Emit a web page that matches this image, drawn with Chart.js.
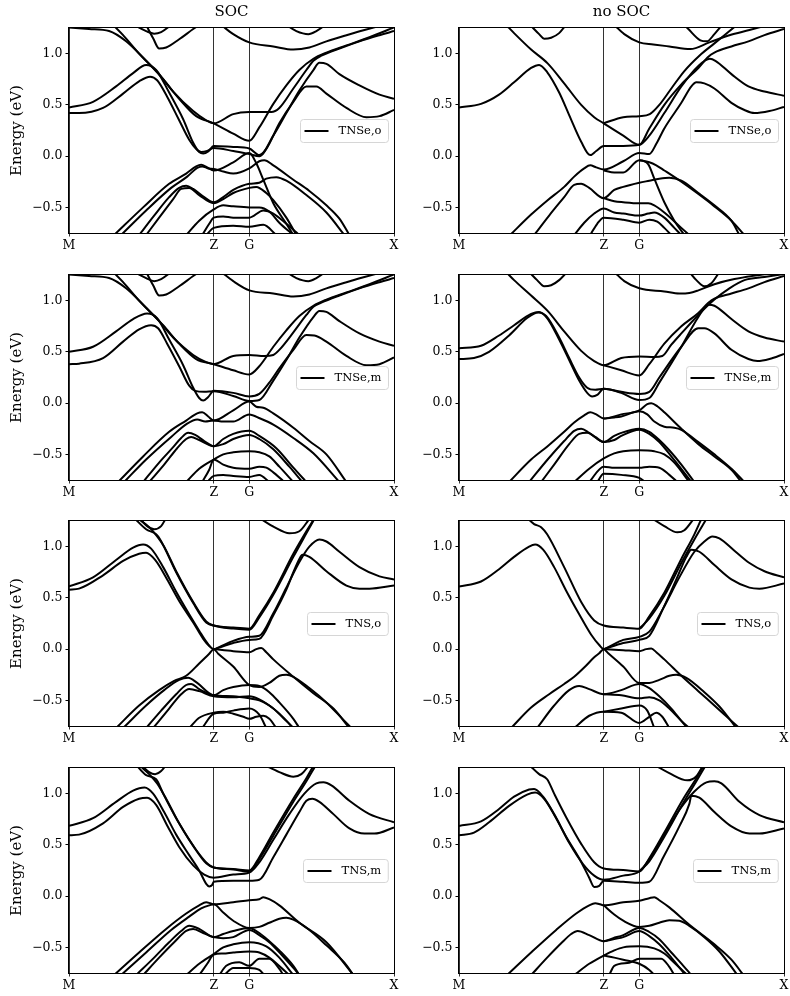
<!DOCTYPE html>
<html>
<head>
<meta charset="utf-8">
<title>Band structures</title>
<script src="https://cdn.jsdelivr.net/npm/chart.js@4.4.1/dist/chart.umd.min.js"></script>
<style>
  html, body { margin: 0; padding: 0; background: #fff; overflow: hidden; }
  #page { position: relative; width: 790px; height: 996px; }
</style>
</head>
<body>
<div id="page"></div>
<script>
// k-path (M - Z - G - X) and energy axis
const kTicks = [0, 1.445, 1.80, 3.245];
const kLabels = ['M', 'Z', 'G', 'X'];
const eTicks = [-0.5, 0, 0.5, 1.0];
const columnTitles = ['SOC', 'no SOC'];
const rowLabels = ['TNSe,o', 'TNSe,m', 'TNS,o', 'TNS,m'];

// each band: flat list k0,E0,k1,E1,... (k along the path, E in eV)
const socTNSeO = [
  [0,0.475, 0.24,0.53, 0.47,0.68, 0.64,0.81, 0.77,0.89, 0.87,0.84, 1.00,0.62, 1.14,0.36, 1.24,0.13, 1.30,0.04, 1.34,0.025, 1.39,0.045, 1.445,0.10, 1.64,0.09, 1.80,0.075, 1.90,0.01, 1.97,0.07, 2.10,0.32, 2.24,0.53, 2.37,0.68, 2.47,0.68, 2.57,0.61, 2.77,0.47, 2.97,0.38, 3.10,0.39, 3.245,0.45],
  [0,0.42, 0.10,0.42, 0.34,0.47, 0.54,0.61, 0.70,0.73, 0.81,0.775, 0.88,0.74, 0.98,0.58, 1.10,0.35, 1.20,0.16, 1.27,0.07, 1.32,0.04, 1.38,0.05, 1.445,0.08, 1.64,0.05, 1.80,0.02, 1.90,0.0, 2.04,0.20, 2.17,0.42, 2.30,0.64, 2.44,0.84, 2.50,0.91, 2.57,0.90, 2.70,0.80, 2.90,0.69, 3.10,0.60, 3.245,0.56],
  [0,1.255, 0.20,1.24, 0.40,1.22, 0.57,1.12, 0.77,0.93, 0.90,0.80, 1.04,0.63, 1.24,0.44, 1.37,0.35, 1.445,0.32, 1.64,0.41, 1.80,0.43, 2.02,0.43, 2.10,0.47, 2.24,0.66, 2.37,0.84, 2.44,0.93, 2.52,0.98, 2.70,1.05, 2.90,1.12, 3.10,1.18, 3.245,1.22],
  [0.42,1.30, 0.54,1.18, 0.70,1.00, 0.80,0.90, 0.94,0.75, 1.10,0.56, 1.27,0.39, 1.445,0.32, 1.64,0.22, 1.80,0.15, 1.90,0.28, 2.04,0.51, 2.17,0.69, 2.30,0.84, 2.44,0.95, 2.57,1.01, 2.77,1.08, 3.00,1.16, 3.245,1.255],
  [0.65,1.28, 0.77,1.22, 0.85,1.195, 0.92,1.21, 1.02,1.28],
  [0.77,1.28, 0.84,1.15, 0.90,1.05, 0.97,1.06, 1.10,1.14, 1.24,1.24, 1.30,1.28],
  [1.52,1.28, 1.64,1.19, 1.80,1.11, 2.04,1.07, 2.24,1.04, 2.40,1.06, 2.57,1.12, 2.77,1.18, 2.95,1.23, 3.10,1.27],
  [2.17,1.28, 2.27,1.22, 2.39,1.19, 2.47,1.22, 2.56,1.28],
  [0.45,-0.77, 0.74,-0.50, 1.00,-0.27, 1.17,-0.17, 1.27,-0.10, 1.32,-0.085, 1.38,-0.11, 1.445,-0.14, 1.64,-0.06, 1.80,0.03, 1.87,-0.07, 1.94,-0.23, 2.04,-0.46, 2.17,-0.66, 2.24,-0.77],
  [0.52,-0.77, 0.77,-0.53, 1.02,-0.31, 1.18,-0.20, 1.28,-0.115, 1.33,-0.10, 1.39,-0.12, 1.445,-0.125, 1.54,-0.15, 1.64,-0.17, 1.80,-0.12, 1.90,-0.05, 1.95,-0.04, 2.04,-0.09, 2.24,-0.23, 2.40,-0.34, 2.57,-0.48, 2.70,-0.61, 2.80,-0.77],
  [0.70,-0.77, 0.85,-0.58, 1.00,-0.40, 1.10,-0.31, 1.17,-0.29, 1.24,-0.32, 1.35,-0.40, 1.445,-0.45, 1.54,-0.40, 1.64,-0.33, 1.80,-0.27, 1.90,-0.26, 1.97,-0.22, 2.07,-0.205, 2.17,-0.24, 2.37,-0.38, 2.57,-0.55, 2.75,-0.77],
  [0.77,-0.77, 0.90,-0.60, 1.04,-0.42, 1.12,-0.32, 1.20,-0.31, 1.30,-0.38, 1.445,-0.46, 1.54,-0.42, 1.64,-0.36, 1.80,-0.31, 1.87,-0.30, 1.97,-0.36, 2.04,-0.43, 2.17,-0.60, 2.27,-0.77],
  [1.17,-0.77, 1.30,-0.63, 1.445,-0.52, 1.54,-0.48, 1.64,-0.49, 1.80,-0.50, 1.90,-0.50, 2.00,-0.54, 2.10,-0.65, 2.24,-0.77],
  [1.33,-0.77, 1.40,-0.66, 1.445,-0.60, 1.54,-0.59, 1.64,-0.60, 1.80,-0.60, 1.94,-0.53, 2.04,-0.56, 2.17,-0.66, 2.30,-0.77],
  [1.37,-0.77, 1.445,-0.70, 1.64,-0.68, 1.80,-0.69, 1.94,-0.67, 2.07,-0.77]
];

const nosocTNSeO = [
  [0,0.475, 0.22,0.51, 0.40,0.60, 0.55,0.72, 0.72,0.86, 0.80,0.89, 0.88,0.82, 1.00,0.62, 1.10,0.40, 1.22,0.14, 1.31,0.01, 1.37,0.05, 1.445,0.10, 1.64,0.10, 1.80,0.11, 1.90,0.20, 2.05,0.42, 2.22,0.68, 2.39,0.88, 2.505,0.95, 2.56,0.93, 2.72,0.80, 2.89,0.68, 3.05,0.63, 3.245,0.59],
  [0.47,1.28, 0.55,1.20, 0.72,1.04, 0.885,0.905, 1.05,0.71, 1.22,0.50, 1.35,0.38, 1.445,0.32, 1.64,0.20, 1.80,0.11, 1.90,0.27, 2.05,0.50, 2.22,0.70, 2.39,0.86, 2.49,0.97, 2.55,1.01, 2.72,1.07, 2.89,1.12, 3.05,1.18, 3.245,1.24],
  [1.445,0.32, 1.64,0.38, 1.80,0.39, 1.905,0.41, 2.00,0.50, 2.12,0.66, 2.25,0.83, 2.40,0.98, 2.55,1.10, 2.65,1.18, 2.75,1.26],
  [0.72,1.27, 0.80,1.19, 0.85,1.145, 0.92,1.155, 1.00,1.20, 1.06,1.27],
  [1.55,1.28, 1.65,1.19, 1.80,1.11, 1.94,1.09, 2.10,1.07, 2.31,1.045, 2.50,1.11, 2.70,1.18, 2.90,1.23, 3.05,1.27],
  [2.25,1.28, 2.29,1.24, 2.41,1.13, 2.475,1.12, 2.55,1.19, 2.61,1.26],
  [0.51,-0.77, 0.72,-0.57, 0.885,-0.43, 1.05,-0.30, 1.15,-0.20, 1.25,-0.12, 1.31,-0.09, 1.37,-0.11, 1.445,-0.13, 1.64,-0.05, 1.80,0.03, 1.90,0.02, 1.97,0.12, 2.05,0.27, 2.22,0.52, 2.32,0.68, 2.37,0.72, 2.45,0.71, 2.55,0.66, 2.72,0.52, 2.85,0.45, 2.95,0.42, 3.10,0.44, 3.245,0.48],
  [1.445,-0.14, 1.55,-0.16, 1.64,-0.16, 1.80,-0.04, 1.89,-0.08, 1.95,-0.22, 2.05,-0.45, 2.15,-0.63, 2.25,-0.77],
  [1.80,-0.04, 1.90,-0.06, 1.97,-0.09, 2.05,-0.14, 2.22,-0.25, 2.39,-0.37, 2.55,-0.49, 2.72,-0.63, 2.85,-0.77],
  [0.75,-0.77, 0.90,-0.58, 1.05,-0.40, 1.15,-0.28, 1.22,-0.27, 1.30,-0.31, 1.445,-0.41, 1.55,-0.33, 1.64,-0.30, 1.80,-0.26, 1.90,-0.24, 2.00,-0.22, 2.10,-0.21, 2.22,-0.24, 2.39,-0.36, 2.55,-0.48, 2.72,-0.63, 2.80,-0.77],
  [1.445,-0.41, 1.55,-0.44, 1.64,-0.45, 1.80,-0.46, 1.89,-0.46, 1.95,-0.48, 2.05,-0.55, 2.22,-0.70, 2.30,-0.77],
  [1.15,-0.77, 1.25,-0.65, 1.35,-0.56, 1.445,-0.51, 1.55,-0.55, 1.64,-0.56, 1.80,-0.58, 1.89,-0.56, 1.95,-0.55, 2.05,-0.60, 2.15,-0.70, 2.22,-0.77],
  [1.31,-0.77, 1.38,-0.66, 1.445,-0.60, 1.64,-0.62, 1.80,-0.65, 1.90,-0.62, 1.98,-0.64, 2.05,-0.70, 2.12,-0.77]
];

const socTNSeM = [
  [0,0.50, 0.24,0.55, 0.47,0.70, 0.64,0.82, 0.78,0.875, 0.88,0.83, 1.00,0.62, 1.14,0.37, 1.24,0.15, 1.30,0.05, 1.34,0.025, 1.39,0.06, 1.445,0.12, 1.64,0.10, 1.80,0.065, 1.90,0.09, 2.00,0.20, 2.10,0.34, 2.24,0.52, 2.37,0.665, 2.45,0.66, 2.57,0.60, 2.77,0.46, 2.97,0.37, 3.10,0.38, 3.245,0.445],
  [0,0.38, 0.10,0.385, 0.34,0.44, 0.54,0.60, 0.70,0.72, 0.82,0.76, 0.89,0.73, 0.98,0.58, 1.10,0.36, 1.20,0.17, 1.26,0.12, 1.35,0.11, 1.445,0.115, 1.64,0.07, 1.80,0.02, 1.90,0.03, 2.04,0.22, 2.17,0.42, 2.30,0.64, 2.44,0.84, 2.50,0.90, 2.57,0.89, 2.70,0.80, 2.90,0.68, 3.10,0.60, 3.245,0.56],
  [0,1.255, 0.20,1.24, 0.40,1.22, 0.57,1.12, 0.77,0.93, 0.90,0.80, 1.04,0.64, 1.24,0.47, 1.37,0.40, 1.445,0.38, 1.64,0.46, 1.80,0.47, 1.95,0.46, 2.04,0.47, 2.10,0.52, 2.24,0.69, 2.37,0.86, 2.44,0.94, 2.52,0.98, 2.70,1.05, 2.90,1.12, 3.10,1.18, 3.245,1.22],
  [0.42,1.30, 0.54,1.18, 0.70,1.00, 0.80,0.90, 0.94,0.76, 1.10,0.58, 1.27,0.43, 1.445,0.38, 1.64,0.32, 1.80,0.28, 1.90,0.36, 2.04,0.55, 2.17,0.71, 2.30,0.85, 2.44,0.95, 2.57,1.01, 2.77,1.08, 3.00,1.16, 3.245,1.255],
  [0.65,1.28, 0.77,1.22, 0.85,1.19, 0.92,1.21, 1.02,1.28],
  [0.77,1.28, 0.84,1.15, 0.90,1.05, 0.97,1.06, 1.10,1.14, 1.24,1.24, 1.30,1.28],
  [1.52,1.28, 1.64,1.19, 1.80,1.10, 2.04,1.07, 2.24,1.04, 2.40,1.06, 2.57,1.12, 2.77,1.18, 2.95,1.23, 3.10,1.27],
  [2.17,1.28, 2.27,1.22, 2.39,1.19, 2.47,1.22, 2.56,1.28],
  [0.49,-0.77, 0.74,-0.52, 1.00,-0.28, 1.17,-0.17, 1.28,-0.10, 1.33,-0.09, 1.39,-0.13, 1.445,-0.17, 1.64,-0.07, 1.80,0.015, 1.87,-0.035, 1.94,-0.045, 2.04,-0.10, 2.24,-0.24, 2.40,-0.37, 2.57,-0.50, 2.77,-0.77],
  [0.55,-0.77, 0.77,-0.55, 1.02,-0.33, 1.18,-0.20, 1.28,-0.16, 1.36,-0.18, 1.445,-0.17, 1.54,-0.18, 1.64,-0.18, 1.80,-0.11, 1.91,-0.15, 2.04,-0.21, 2.24,-0.34, 2.44,-0.49, 2.70,-0.77],
  [0.74,-0.77, 0.90,-0.58, 1.04,-0.43, 1.12,-0.34, 1.19,-0.29, 1.26,-0.31, 1.35,-0.37, 1.445,-0.42, 1.54,-0.35, 1.64,-0.30, 1.80,-0.27, 1.90,-0.32, 2.07,-0.44, 2.24,-0.63, 2.37,-0.77],
  [0.80,-0.77, 0.95,-0.60, 1.08,-0.44, 1.17,-0.35, 1.22,-0.33, 1.30,-0.36, 1.445,-0.42, 1.54,-0.40, 1.64,-0.35, 1.80,-0.31, 1.90,-0.35, 2.04,-0.45, 2.20,-0.62, 2.33,-0.77],
  [1.17,-0.77, 1.30,-0.64, 1.445,-0.55, 1.54,-0.50, 1.64,-0.48, 1.80,-0.47, 1.90,-0.48, 2.00,-0.52, 2.10,-0.62, 2.24,-0.77],
  [1.33,-0.77, 1.40,-0.65, 1.445,-0.55, 1.54,-0.60, 1.64,-0.63, 1.80,-0.64, 1.90,-0.62, 1.97,-0.63, 2.07,-0.70, 2.15,-0.77],
  [1.38,-0.77, 1.445,-0.71, 1.54,-0.70, 1.64,-0.71, 1.80,-0.72, 1.90,-0.70, 2.00,-0.77]
];

const nosocTNSeM = [
  [0,0.535, 0.22,0.56, 0.40,0.66, 0.55,0.76, 0.72,0.87, 0.80,0.89, 0.88,0.83, 1.00,0.62, 1.10,0.42, 1.20,0.22, 1.28,0.10, 1.33,0.065, 1.38,0.08, 1.445,0.14, 1.62,0.11, 1.80,0.09, 1.90,0.11, 2.00,0.25, 2.22,0.55, 2.39,0.73, 2.45,0.73, 2.55,0.68, 2.72,0.52, 2.89,0.43, 2.98,0.41, 3.10,0.43, 3.245,0.48],
  [0,0.43, 0.15,0.44, 0.30,0.50, 0.50,0.66, 0.68,0.83, 0.79,0.885, 0.87,0.85, 1.00,0.64, 1.10,0.44, 1.20,0.25, 1.28,0.15, 1.36,0.13, 1.445,0.14, 1.62,0.10, 1.80,0.03, 1.90,0.05, 2.00,0.20, 2.22,0.55, 2.39,0.84, 2.49,0.96, 2.55,0.95, 2.72,0.82, 2.89,0.70, 3.05,0.64, 3.245,0.60],
  [0.47,1.28, 0.55,1.20, 0.72,1.05, 0.885,0.90, 1.05,0.70, 1.22,0.51, 1.35,0.41, 1.445,0.37, 1.62,0.44, 1.80,0.455, 1.95,0.45, 2.03,0.46, 2.12,0.57, 2.22,0.68, 2.39,0.86, 2.55,1.01, 2.70,1.12, 2.85,1.20, 3.05,1.23, 3.245,1.26],
  [1.445,0.37, 1.62,0.32, 1.80,0.27, 1.90,0.38, 2.05,0.58, 2.22,0.75, 2.39,0.88, 2.49,0.98, 2.55,1.02, 2.72,1.07, 2.89,1.12, 3.05,1.18, 3.245,1.24],
  [0.70,1.28, 0.78,1.20, 0.85,1.14, 0.92,1.15, 1.00,1.20, 1.08,1.28],
  [1.55,1.28, 1.65,1.19, 1.80,1.12, 2.05,1.09, 2.20,1.07, 2.30,1.075, 2.39,1.10, 2.55,1.16, 2.75,1.21, 3.00,1.25, 3.245,1.28],
  [2.30,1.28, 2.37,1.20, 2.45,1.14, 2.52,1.17, 2.60,1.28],
  [0.50,-0.77, 0.72,-0.55, 0.885,-0.42, 1.05,-0.28, 1.15,-0.19, 1.25,-0.12, 1.31,-0.09, 1.37,-0.11, 1.445,-0.15, 1.62,-0.11, 1.80,-0.07, 1.88,-0.01, 1.92,0.0, 1.98,-0.03, 2.05,-0.09, 2.22,-0.25, 2.39,-0.40, 2.55,-0.52, 2.72,-0.65, 2.82,-0.77],
  [1.445,-0.15, 1.55,-0.14, 1.62,-0.13, 1.80,-0.08, 1.88,-0.11, 1.95,-0.18, 2.05,-0.23, 2.15,-0.24, 2.22,-0.26, 2.39,-0.38, 2.55,-0.50, 2.72,-0.64, 2.85,-0.77],
  [0.70,-0.77, 0.885,-0.55, 1.05,-0.37, 1.15,-0.27, 1.22,-0.25, 1.30,-0.29, 1.445,-0.38, 1.55,-0.32, 1.62,-0.29, 1.80,-0.25, 1.90,-0.28, 2.00,-0.36, 2.10,-0.46, 2.22,-0.60, 2.35,-0.77],
  [0.82,-0.77, 0.95,-0.60, 1.10,-0.40, 1.20,-0.30, 1.28,-0.29, 1.36,-0.33, 1.445,-0.38, 1.55,-0.36, 1.62,-0.32, 1.80,-0.26, 1.90,-0.30, 2.00,-0.38, 2.12,-0.52, 2.25,-0.68, 2.32,-0.77],
  [1.15,-0.77, 1.30,-0.64, 1.445,-0.54, 1.55,-0.49, 1.64,-0.47, 1.80,-0.46, 1.95,-0.47, 2.05,-0.50, 2.15,-0.58, 2.30,-0.77],
  [1.30,-0.77, 1.445,-0.62, 1.55,-0.63, 1.64,-0.63, 1.80,-0.63, 1.90,-0.62, 2.00,-0.63, 2.10,-0.70, 2.18,-0.77],
  [1.38,-0.77, 1.445,-0.69, 1.62,-0.70, 1.80,-0.73, 1.86,-0.77]
];

const socTNSO = [
  [0,0.612, 0.24,0.70, 0.47,0.87, 0.64,0.99, 0.74,1.02, 0.82,0.98, 0.94,0.80, 1.07,0.56, 1.20,0.34, 1.30,0.18, 1.38,0.06, 1.445,0.0, 1.50,0.02, 1.64,0.08, 1.80,0.12, 1.90,0.13, 2.04,0.35, 2.17,0.60, 2.30,0.85, 2.40,1.00, 2.50,1.07, 2.57,1.05, 2.70,0.95, 2.90,0.80, 3.10,0.71, 3.245,0.68],
  [0,0.58, 0.10,0.59, 0.34,0.72, 0.54,0.86, 0.70,0.93, 0.77,0.94, 0.86,0.87, 0.98,0.68, 1.10,0.47, 1.24,0.26, 1.34,0.10, 1.40,0.03, 1.445,0.0, 1.50,0.015, 1.64,0.06, 1.80,0.09, 1.90,0.10, 2.04,0.33, 2.17,0.58, 2.24,0.75, 2.30,0.88, 2.33,0.92, 2.40,0.90, 2.57,0.76, 2.77,0.62, 2.90,0.59, 3.00,0.59, 3.245,0.62],
  [0.65,1.28, 0.77,1.17, 0.87,1.12, 0.91,1.07, 1.07,0.75, 1.24,0.45, 1.37,0.26, 1.445,0.23, 1.64,0.21, 1.80,0.20, 1.90,0.33, 2.04,0.55, 2.24,0.93, 2.37,1.15, 2.44,1.26],
  [0.68,1.28, 0.80,1.19, 0.88,1.10, 0.95,1.00, 1.07,0.76, 1.24,0.46, 1.37,0.27, 1.445,0.23, 1.64,0.20, 1.80,0.19, 1.90,0.31, 2.04,0.53, 2.24,0.90, 2.37,1.13, 2.45,1.27],
  [0.70,1.28, 0.78,1.20, 0.85,1.17, 0.92,1.20, 0.97,1.28],
  [1.90,1.28, 2.05,1.19, 2.20,1.13, 2.30,1.15, 2.40,1.27],
  [1.445,0.0, 1.64,-0.02, 1.80,-0.03, 1.87,0.0, 1.92,0.01, 1.97,-0.03, 2.04,-0.10, 2.24,-0.27, 2.44,-0.43, 2.64,-0.58, 2.80,-0.77],
  [0.47,-0.77, 0.70,-0.55, 0.90,-0.40, 1.05,-0.31, 1.17,-0.26, 1.30,-0.14, 1.40,-0.045, 1.445,0.0, 1.49,-0.045, 1.64,-0.17, 1.80,-0.35, 1.90,-0.37, 2.00,-0.33, 2.10,-0.26, 2.17,-0.25, 2.24,-0.27, 2.40,-0.38, 2.57,-0.52, 2.75,-0.70, 2.82,-0.77],
  [0.54,-0.77, 0.77,-0.55, 0.95,-0.40, 1.10,-0.30, 1.19,-0.28, 1.28,-0.33, 1.445,-0.45, 1.54,-0.40, 1.64,-0.37, 1.80,-0.35, 1.90,-0.36, 2.00,-0.42, 2.10,-0.52, 2.24,-0.68, 2.30,-0.77],
  [0.77,-0.77, 0.92,-0.60, 1.07,-0.44, 1.17,-0.35, 1.22,-0.34, 1.30,-0.39, 1.445,-0.45, 1.64,-0.46, 1.80,-0.48, 1.90,-0.50, 2.00,-0.55, 2.10,-0.63, 2.24,-0.77],
  [0.84,-0.77, 1.00,-0.58, 1.12,-0.44, 1.20,-0.39, 1.30,-0.41, 1.445,-0.46, 1.64,-0.47, 1.80,-0.46, 1.90,-0.49, 2.04,-0.58, 2.17,-0.70, 2.24,-0.77],
  [1.20,-0.77, 1.30,-0.67, 1.445,-0.62, 1.54,-0.61, 1.64,-0.63, 1.74,-0.66, 1.80,-0.68, 1.87,-0.66, 1.94,-0.65, 2.00,-0.68, 2.07,-0.77],
  [1.33,-0.77, 1.445,-0.63, 1.54,-0.62, 1.64,-0.60, 1.80,-0.58, 1.90,-0.64, 1.97,-0.77]
];

const nosocTNSO = [
  [0,0.61, 0.22,0.66, 0.40,0.78, 0.55,0.90, 0.70,1.00, 0.76,1.02, 0.84,0.97, 0.95,0.80, 1.07,0.57, 1.20,0.34, 1.32,0.14, 1.40,0.04, 1.445,0.0, 1.50,0.025, 1.64,0.09, 1.80,0.12, 1.90,0.17, 2.04,0.40, 2.20,0.70, 2.35,0.95, 2.45,1.05, 2.53,1.10, 2.60,1.08, 2.75,0.96, 2.90,0.84, 3.05,0.76, 3.245,0.70],
  [1.445,0.0, 1.64,0.06, 1.80,0.09, 1.90,0.13, 2.04,0.40, 2.17,0.68, 2.27,0.90, 2.32,0.97, 2.40,0.95, 2.55,0.82, 2.72,0.68, 2.90,0.60, 3.00,0.59, 3.245,0.64],
  [0.68,1.28, 0.75,1.22, 0.82,1.19, 0.88,1.12, 1.05,0.80, 1.22,0.46, 1.35,0.28, 1.445,0.23, 1.64,0.21, 1.80,0.20, 1.90,0.32, 2.05,0.55, 2.22,0.88, 2.35,1.12, 2.42,1.27],
  [1.80,0.20, 1.90,0.30, 2.05,0.52, 2.22,0.84, 2.35,1.07, 2.47,1.27],
  [1.445,0.0, 1.64,-0.01, 1.80,-0.02, 1.87,0.0, 1.92,0.005, 1.97,-0.03, 2.05,-0.10, 2.22,-0.26, 2.39,-0.41, 2.55,-0.55, 2.72,-0.70, 2.80,-0.77],
  [0.52,-0.77, 0.72,-0.57, 0.90,-0.44, 1.05,-0.34, 1.15,-0.27, 1.25,-0.18, 1.35,-0.08, 1.40,-0.04, 1.445,0.0, 1.49,-0.04, 1.64,-0.17, 1.80,-0.33, 1.90,-0.33, 2.00,-0.30, 2.10,-0.26, 2.17,-0.25, 2.27,-0.28, 2.45,-0.42, 2.60,-0.56, 2.77,-0.77],
  [0.78,-0.77, 0.95,-0.55, 1.10,-0.40, 1.20,-0.36, 1.30,-0.39, 1.445,-0.44, 1.62,-0.40, 1.80,-0.34, 1.90,-0.38, 2.00,-0.46, 2.12,-0.58, 2.22,-0.70, 2.28,-0.77],
  [1.445,-0.44, 1.62,-0.45, 1.80,-0.48, 1.90,-0.47, 2.00,-0.50, 2.10,-0.58, 2.22,-0.70, 2.30,-0.77],
  [1.15,-0.77, 1.30,-0.65, 1.445,-0.61, 1.62,-0.62, 1.80,-0.72, 1.90,-0.66, 1.97,-0.62, 2.03,-0.66, 2.10,-0.77],
  [1.445,-0.61, 1.62,-0.58, 1.80,-0.55, 1.88,-0.60, 1.95,-0.77],
  [1.92,1.28, 2.05,1.20, 2.18,1.14, 2.25,1.16, 2.35,1.28]
];

const socTNSM = [
  [0,0.685, 0.24,0.76, 0.47,0.92, 0.64,1.03, 0.755,1.06, 0.84,1.00, 0.95,0.82, 1.07,0.60, 1.20,0.40, 1.30,0.25, 1.37,0.12, 1.40,0.095, 1.43,0.11, 1.445,0.14, 1.64,0.15, 1.80,0.15, 1.90,0.16, 2.04,0.38, 2.17,0.60, 2.30,0.82, 2.37,0.93, 2.43,0.95, 2.50,0.92, 2.64,0.80, 2.80,0.66, 2.95,0.61, 3.05,0.61, 3.245,0.67],
  [0,0.594, 0.10,0.60, 0.34,0.71, 0.54,0.87, 0.70,0.95, 0.78,0.96, 0.87,0.89, 0.98,0.69, 1.10,0.48, 1.24,0.30, 1.35,0.21, 1.445,0.18, 1.64,0.21, 1.80,0.23, 1.90,0.33, 2.04,0.55, 2.20,0.80, 2.35,1.00, 2.47,1.10, 2.54,1.11, 2.62,1.08, 2.80,0.93, 3.00,0.80, 3.245,0.72],
  [0.67,1.28, 0.77,1.18, 0.87,1.14, 0.94,1.00, 1.07,0.76, 1.24,0.49, 1.37,0.32, 1.445,0.28, 1.64,0.265, 1.80,0.25, 1.90,0.38, 2.04,0.62, 2.24,0.95, 2.37,1.15, 2.44,1.27],
  [0.70,1.28, 0.80,1.19, 0.88,1.10, 0.97,0.95, 1.10,0.71, 1.27,0.45, 1.39,0.31, 1.445,0.28, 1.64,0.26, 1.80,0.24, 1.90,0.36, 2.04,0.59, 2.24,0.92, 2.37,1.12, 2.46,1.27],
  [0.72,1.28, 0.80,1.21, 0.86,1.19, 0.92,1.22, 0.97,1.28],
  [1.95,1.28, 2.10,1.21, 2.24,1.165, 2.32,1.19, 2.40,1.28],
  [0.45,-0.77, 0.70,-0.55, 0.97,-0.32, 1.17,-0.17, 1.30,-0.09, 1.37,-0.06, 1.41,-0.07, 1.445,-0.08, 1.64,-0.06, 1.80,-0.04, 1.90,-0.03, 1.94,-0.01, 2.00,-0.03, 2.10,-0.09, 2.30,-0.26, 2.57,-0.45, 2.84,-0.77],
  [0.52,-0.77, 0.77,-0.55, 1.02,-0.33, 1.20,-0.20, 1.32,-0.12, 1.40,-0.09, 1.445,-0.08, 1.54,-0.16, 1.64,-0.24, 1.80,-0.31, 1.90,-0.30, 2.00,-0.26, 2.10,-0.22, 2.17,-0.21, 2.24,-0.23, 2.40,-0.33, 2.57,-0.48, 2.75,-0.65, 2.84,-0.77],
  [0.67,-0.77, 0.85,-0.60, 1.00,-0.45, 1.12,-0.34, 1.20,-0.29, 1.30,-0.32, 1.445,-0.40, 1.54,-0.37, 1.64,-0.34, 1.80,-0.31, 1.90,-0.36, 2.00,-0.44, 2.10,-0.53, 2.24,-0.68, 2.30,-0.77],
  [0.74,-0.77, 0.90,-0.60, 1.05,-0.45, 1.17,-0.34, 1.24,-0.32, 1.34,-0.36, 1.445,-0.40, 1.54,-0.41, 1.64,-0.40, 1.80,-0.33, 1.90,-0.38, 2.00,-0.45, 2.12,-0.57, 2.24,-0.70, 2.30,-0.77],
  [1.17,-0.77, 1.30,-0.66, 1.445,-0.565, 1.54,-0.50, 1.64,-0.47, 1.80,-0.45, 1.97,-0.49, 2.10,-0.60, 2.24,-0.77],
  [1.30,-0.77, 1.38,-0.66, 1.445,-0.57, 1.54,-0.56, 1.64,-0.55, 1.80,-0.54, 1.90,-0.55, 2.00,-0.60, 2.12,-0.70, 2.20,-0.77],
  [1.50,-0.77, 1.57,-0.68, 1.70,-0.645, 1.80,-0.68, 1.90,-0.61, 2.00,-0.61, 2.10,-0.71, 2.14,-0.77],
  [1.55,-0.77, 1.64,-0.70, 1.80,-0.70, 1.90,-0.72, 1.95,-0.77]
];

const nosocTNSM = [
  [0,0.685, 0.22,0.73, 0.40,0.85, 0.55,0.97, 0.70,1.04, 0.75,1.045, 0.84,0.97, 0.95,0.80, 1.07,0.58, 1.20,0.37, 1.30,0.18, 1.35,0.09, 1.40,0.10, 1.445,0.15, 1.64,0.14, 1.80,0.13, 1.90,0.14, 2.04,0.38, 2.20,0.68, 2.30,0.90, 2.32,0.98, 2.40,0.96, 2.55,0.82, 2.72,0.68, 2.90,0.61, 3.00,0.61, 3.245,0.66],
  [0,0.594, 0.15,0.62, 0.30,0.72, 0.50,0.88, 0.68,0.99, 0.76,1.01, 0.85,0.95, 0.97,0.76, 1.10,0.52, 1.24,0.31, 1.35,0.20, 1.445,0.16, 1.64,0.20, 1.80,0.24, 1.90,0.36, 2.05,0.60, 2.20,0.84, 2.35,1.02, 2.47,1.11, 2.55,1.12, 2.62,1.10, 2.80,0.92, 3.00,0.79, 3.245,0.72],
  [0.70,1.28, 0.80,1.19, 0.88,1.14, 0.95,1.00, 1.07,0.77, 1.22,0.51, 1.35,0.33, 1.445,0.27, 1.64,0.255, 1.80,0.24, 1.90,0.37, 2.05,0.62, 2.24,0.95, 2.37,1.15, 2.44,1.27],
  [1.80,0.24, 1.90,0.34, 2.05,0.58, 2.24,0.91, 2.37,1.12, 2.46,1.27],
  [1.95,1.28, 2.10,1.20, 2.28,1.13, 2.37,1.17, 2.44,1.28],
  [0.48,-0.77, 0.72,-0.55, 0.97,-0.33, 1.17,-0.17, 1.30,-0.09, 1.36,-0.07, 1.41,-0.08, 1.445,-0.09, 1.64,-0.06, 1.80,-0.045, 1.90,-0.02, 1.95,-0.01, 2.00,-0.04, 2.10,-0.11, 2.30,-0.28, 2.55,-0.47, 2.72,-0.62, 2.84,-0.77],
  [1.445,-0.09, 1.55,-0.18, 1.64,-0.24, 1.80,-0.30, 1.90,-0.29, 2.00,-0.26, 2.10,-0.235, 2.20,-0.24, 2.30,-0.29, 2.45,-0.40, 2.60,-0.54, 2.78,-0.77],
  [0.72,-0.77, 0.88,-0.60, 1.02,-0.46, 1.12,-0.37, 1.185,-0.34, 1.30,-0.38, 1.445,-0.44, 1.54,-0.41, 1.64,-0.38, 1.80,-0.31, 1.90,-0.35, 2.00,-0.42, 2.12,-0.55, 2.24,-0.68, 2.32,-0.77],
  [1.445,-0.44, 1.64,-0.40, 1.80,-0.34, 1.90,-0.39, 2.00,-0.47, 2.12,-0.60, 2.22,-0.72, 2.26,-0.77],
  [1.15,-0.77, 1.30,-0.66, 1.445,-0.58, 1.55,-0.53, 1.64,-0.50, 1.80,-0.49, 1.95,-0.51, 2.05,-0.56, 2.15,-0.65, 2.28,-0.77],
  [1.445,-0.58, 1.55,-0.60, 1.64,-0.62, 1.80,-0.66, 1.90,-0.72, 1.95,-0.77],
  [1.50,-0.77, 1.55,-0.68, 1.70,-0.65, 1.80,-0.61, 1.89,-0.61, 2.02,-0.61, 2.10,-0.69, 2.15,-0.77]
];

const panels = [
  [socTNSeO, nosocTNSeO],
  [socTNSeM, nosocTNSeM],
  [socTNSO, nosocTNSO],
  [socTNSM, nosocTNSM]
];

const FONT = 'DejaVu Serif';
const rowTops = [0, 247, 493, 740];
const CANVAS_H = 262;

function toPoints(flat) {
  const pts = [];
  for (let i = 0; i < flat.length; i += 2) pts.push({ x: flat[i], y: flat[i + 1] });
  return pts;
}

function fmtEnergy(v) {
  return (v < 0 ? '\u2212' : '') + Math.abs(v).toFixed(1);
}

// box around the plotting area (all four spines)
const frame = {
  id: 'frame',
  afterDatasetsDraw(chart) {
    const { ctx, chartArea: a } = chart;
    ctx.save();
    ctx.strokeStyle = '#000';
    ctx.lineWidth = 1;
    ctx.strokeRect(Math.round(a.left) - 0.5, Math.round(a.top) - 0.5,
      Math.round(a.right - a.left) + 1, Math.round(a.bottom - a.top) + 1);
    ctx.restore();
  }
};

// legend entry, right-centre inside the axes
const legendBox = {
  id: 'legendBox',
  afterDraw(chart) {
    const label = chart.data.datasets[0].label;
    const { ctx, chartArea: a } = chart;
    ctx.save();
    ctx.font = `11.5px "${FONT}"`;
    const tw = ctx.measureText(label).width;
    const h = 23, w = 4 + 24 + 10 + tw + 7;
    const x = Math.round(a.right - 6 - w) + 0.5;
    const y = Math.round((a.top + a.bottom) / 2 - h / 2) + 0.5;
    ctx.beginPath();
    ctx.roundRect(x, y, w, h, 3);
    ctx.fillStyle = 'rgba(255,255,255,0.85)';
    ctx.fill();
    ctx.strokeStyle = '#d6d6d6';
    ctx.lineWidth = 1;
    ctx.stroke();
    ctx.beginPath();
    ctx.moveTo(x + 4, y + h / 2);
    ctx.lineTo(x + 28, y + h / 2);
    ctx.strokeStyle = '#000';
    ctx.lineWidth = 2;
    ctx.stroke();
    ctx.fillStyle = '#000';
    ctx.textBaseline = 'middle';
    ctx.fillText(label, x + 38, y + h / 2 + 0.5);
    ctx.restore();
  }
};

// column heading centred over the axes
const columnTitle = {
  id: 'columnTitle',
  afterDraw(chart, args, opts) {
    if (!opts.text) return;
    const { ctx, chartArea: a } = chart;
    ctx.save();
    ctx.font = `15px "${FONT}"`;
    ctx.fillStyle = '#000';
    ctx.textAlign = 'center';
    ctx.textBaseline = 'middle';
    ctx.fillText(opts.text, (a.left + a.right) / 2, a.top - 16);
    ctx.restore();
  }
};

const page = document.getElementById('page');

panels.forEach((row, r) => {
  row.forEach((bands, c) => {
    const w = c === 0 ? 400 : 390;
    const canvas = document.createElement('canvas');
    canvas.width = w;
    canvas.height = CANVAS_H;
    canvas.style.cssText = `position:absolute;left:${c === 0 ? 0 : 400}px;top:${rowTops[r]}px;width:${w}px;height:${CANVAS_H}px`;
    page.appendChild(canvas);

    new Chart(canvas, {
      type: 'line',
      data: {
        datasets: bands.map((b, i) => ({
          label: i === 0 ? rowLabels[r] : '',
          data: toPoints(b),
          borderColor: '#000',
          borderWidth: 2,
          borderJoinStyle: 'round',
          pointRadius: 0,
          fill: false,
          clip: 0,
          cubicInterpolationMode: 'monotone'
        }))
      },
      options: {
        responsive: false,
        animation: false,
        events: [],
        layout: { padding: { top: 28, right: 6, bottom: 5, left: 0 } },
        plugins: {
          legend: { display: false },
          tooltip: { enabled: false },
          columnTitle: { text: r === 0 ? columnTitles[c] : '' }
        },
        scales: {
          x: {
            type: 'linear',
            min: kTicks[0],
            max: kTicks[kTicks.length - 1],
            afterBuildTicks: s => { s.ticks = kTicks.map(v => ({ value: v })); },
            afterFit: s => { s.height = 24; },
            border: { display: false },
            grid: { color: '#333', lineWidth: 1, drawTicks: true, tickLength: 3.5 },
            ticks: {
              autoSkip: false, maxRotation: 0, padding: 1.5, color: '#000',
              font: { family: FONT, size: 12.5 },
              callback: (v, i) => kLabels[i]
            }
          },
          y: {
            min: -0.75,
            max: 1.25,
            afterBuildTicks: s => { s.ticks = eTicks.map(v => ({ value: v })); },
            afterFit: s => { s.width = c === 0 ? 69 : 59; },
            border: { display: false },
            grid: { drawOnChartArea: false, drawTicks: true, tickLength: 3.5, color: '#000' },
            ticks: {
              padding: 3, color: '#000',
              font: { family: FONT, size: 12.5 },
              callback: v => fmtEnergy(v)
            },
            title: {
              display: c === 0,
              text: 'Energy (eV)',
              color: '#000',
              font: { family: FONT, size: 15 },
              padding: { top: 8, bottom: 0 }
            }
          }
        }
      },
      plugins: [frame, legendBox, columnTitle]
    });
  });
});
</script>
</body>
</html>
